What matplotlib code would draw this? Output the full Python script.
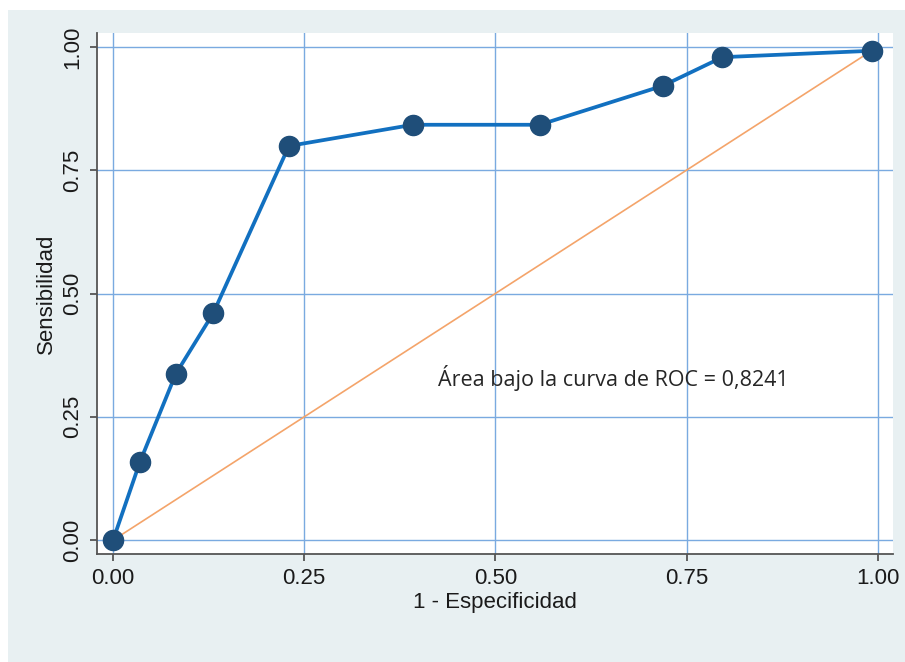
import matplotlib
matplotlib.use("Agg")
import matplotlib.pyplot as plt

fpr = [0.0, 0.035, 0.082, 0.131, 0.230, 0.392, 0.558, 0.719, 0.797, 0.993]
tpr = [0.0, 0.158, 0.337, 0.460, 0.799, 0.842, 0.842, 0.921, 0.979, 0.992]
ref_x = [0.0, 1.0]
ref_y = [0.0, 1.0]
ticks = [0.0, 0.25, 0.5, 0.75, 1.0]
tick_labels = ["0.00", "0.25", "0.50", "0.75", "1.00"]
auc_text = "Área bajo la curva de ROC = 0,8241"

plt.rcParams['font.family'] = ['Liberation Sans', 'DejaVu Sans']

fig = plt.figure(figsize=(9.05, 6.62), dpi=100)
fig.patch.set_facecolor("white")
# light background panel
bg = fig.add_axes([8/905, 0, 1 - 8/905, 1 - 10/662])
bg.set_facecolor("#E8F0F2")
bg.set_xticks([]); bg.set_yticks([])
for s in bg.spines.values():
    s.set_visible(False)
bg.set_zorder(-10)

W, H = 905, 662
x0, x1 = 97, 893
y0, y1 = 33, 554
ax = fig.add_axes([x0 / W, 1 - y1 / H, (x1 - x0) / W, (y1 - y0) / H])
ax.set_facecolor("white")
ax.set_xlim(-0.021, 1.02)
ax.set_ylim(-0.028, 1.028)

ax.set_xticks(ticks)
ax.set_xticklabels(tick_labels)
ax.set_yticks(ticks)
ax.set_yticklabels(tick_labels, rotation=90, va="center")
ax.grid(True, color="#7AAAE0", linewidth=1.0)
ax.set_axisbelow(True)

for side in ["top", "right"]:
    ax.spines[side].set_visible(False)
for side in ["left", "bottom"]:
    ax.spines[side].set_color("#555555")
    ax.spines[side].set_linewidth(1.3)
ax.tick_params(axis="both", direction="out", length=5, width=1.3, color="#555555",
               labelsize=16, labelcolor="#1a1a1a", pad=5)

ax.plot(ref_x, ref_y, color="#F4A46A", linewidth=1.2, zorder=2)
ax.plot(fpr, tpr, color="#1270C0", linewidth=2.7, marker="o", markersize=14.5,
        markerfacecolor="#1F4E79", markeredgecolor="#1F4E79", zorder=3)

ax.set_xlabel("1 - Especificidad", fontsize=16, color="#1a1a1a", labelpad=2)
ax.set_ylabel("Sensibilidad", fontsize=16, color="#1a1a1a", labelpad=4)

ax.text(0.425, 0.329, auc_text, fontsize=15.5, color="#262626",
        family=["Open Sans", "DejaVu Sans"], va="center", ha="left")

fig.savefig("out.png", dpi=100, facecolor=fig.get_facecolor())
